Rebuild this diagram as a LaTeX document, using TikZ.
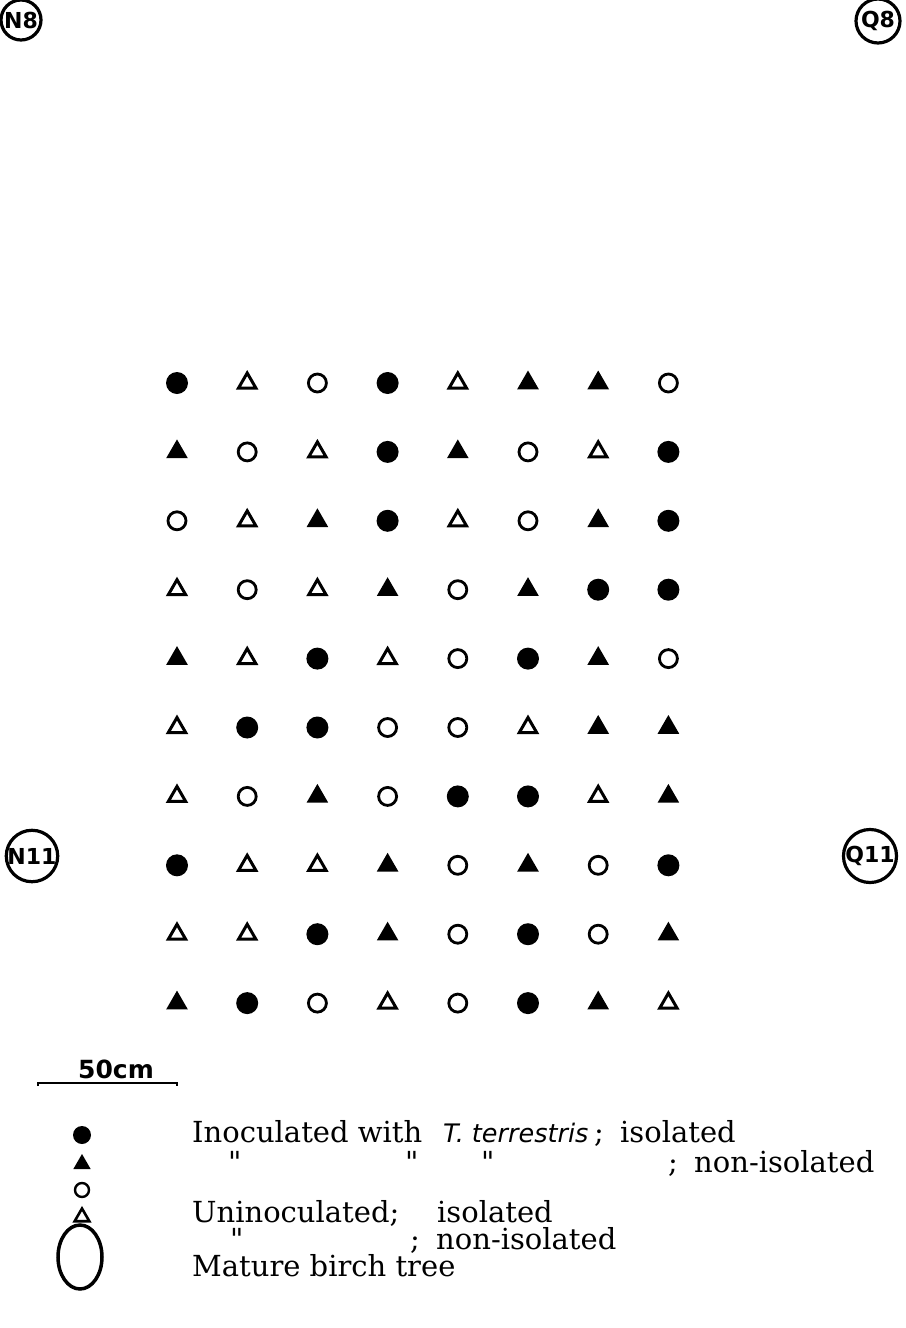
\documentclass[tikz,border=0pt]{standalone}
\usepackage{fontspec}
\setmainfont{DejaVu Serif}
\setsansfont{DejaVu Sans}
\newfontfamily\dittofont{DejaVu Serif}
\usetikzlibrary{shapes.geometric}
\definecolor{plotink}{HTML}{000000}
\newcommand{\ditto}{{\dittofont\char"22}}

\begin{document}
\begin{tikzpicture}[x=1pt, y=-1pt,
                    every node/.style={plotink, inner sep=0pt},
                    plotF/.style={circle, fill=plotink, minimum size=22pt},
                    plotO/.style={circle, draw=plotink, line width=2.8pt, minimum size=18pt},
                    plotT/.style={regular polygon, regular polygon sides=3, fill=plotink, minimum size=25pt},
                    plotD/.style={regular polygon, regular polygon sides=3, draw=plotink, line width=3pt, minimum size=20pt},
                    tree/.style={circle, draw=plotink, line width=3.2pt, font=\sffamily\bfseries\fontsize{22}{22}\selectfont},
                    legtext/.style={anchor=base west, font=\fontsize{29}{32}\selectfont}]

  \useasboundingbox (0,0) rectangle (905,1328);

  %% mature birch trees at the plot corners
  \node[tree, minimum size=40pt] (N8)  at (21,20)   {N8};
  \node[tree, minimum size=44pt] (Q8)  at (878,21)  {Q8};
  \node[tree, minimum size=50pt] (N11) at (32,856)  {N11};
  \node[tree, minimum size=50pt] (Q11) at (870,856) {Q11};

  %% seedlings: 10 rows x 8 columns
  \foreach \row [count=\r] in {
      {F,D,O,F,D,T,T,O},
      {T,O,D,F,T,O,D,F},
      {O,D,T,F,D,O,T,F},
      {D,O,D,T,O,T,F,F},
      {T,D,F,D,O,F,T,O},
      {D,F,F,O,O,D,T,T},
      {D,O,T,O,F,F,D,T},
      {F,D,D,T,O,T,O,F},
      {D,D,F,T,O,F,O,T},
      {T,F,O,D,O,F,T,D}}{
    \foreach \s [count=\c] in \row {
      \node[plot\s] (p-\r-\c) at ({177+70.2*(\c-1)}, {383+68.9*(\r-1)}) {};
    }
  }

  %% scale bar
  \coordinate (barL) at (38,1083);
  \coordinate (barR) at (177,1083);
  \draw[plotink, line width=2.2pt] ([yshift=-3pt]barL) -- (barL) -- (barR) -- ([yshift=-3pt]barR);
  \node[anchor=base, font=\sffamily\bfseries\fontsize{25}{25}\selectfont] (bar) at (116,1078) {50cm};

  %% legend
  \node[plotF, minimum size=18pt] (kF) at (82,1135) {};
  \node[plotT, minimum size=20pt] (kT) at (82,1164) {};
  \node[plotO, minimum size=14pt, line width=2.4pt] (kO) at (82,1190) {};
  \node[plotD, minimum size=17pt, line width=2.6pt] (kD) at (82,1217) {};
  \draw[plotink, line width=3.5pt] (80,1257) ellipse (22 and 32);

  \node[legtext] (l1a) at (192,1142) {Inoculated with};
  \node[legtext, font=\sffamily\itshape\fontsize{25.5}{30}\selectfont] (l1b) at (443,1142) {T.\ terrestris};
  \node[legtext] (l1c) at (594,1142) {;};
  \node[legtext] (l1d) at (620,1142) {isolated};

  \node[legtext] (l2a) at (228,1172) {\ditto};
  \node[legtext] (l2b) at (405,1172) {\ditto};
  \node[legtext] (l2c) at (481,1172) {\ditto};
  \node[legtext] (l2d) at (668,1172) {;};
  \node[legtext] (l2e) at (694,1172) {non-isolated};

  \node[legtext] (l3a) at (192,1222) {Uninoculated;};
  \node[legtext] (l3b) at (437,1222) {isolated};

  \node[legtext] (l4a) at (230,1249) {\ditto};
  \node[legtext] (l4b) at (410,1249) {;};
  \node[legtext] (l4c) at (436,1249) {non-isolated};

  \node[legtext] (l5a) at (192,1276) {Mature birch tree};

\end{tikzpicture}
\end{document}
